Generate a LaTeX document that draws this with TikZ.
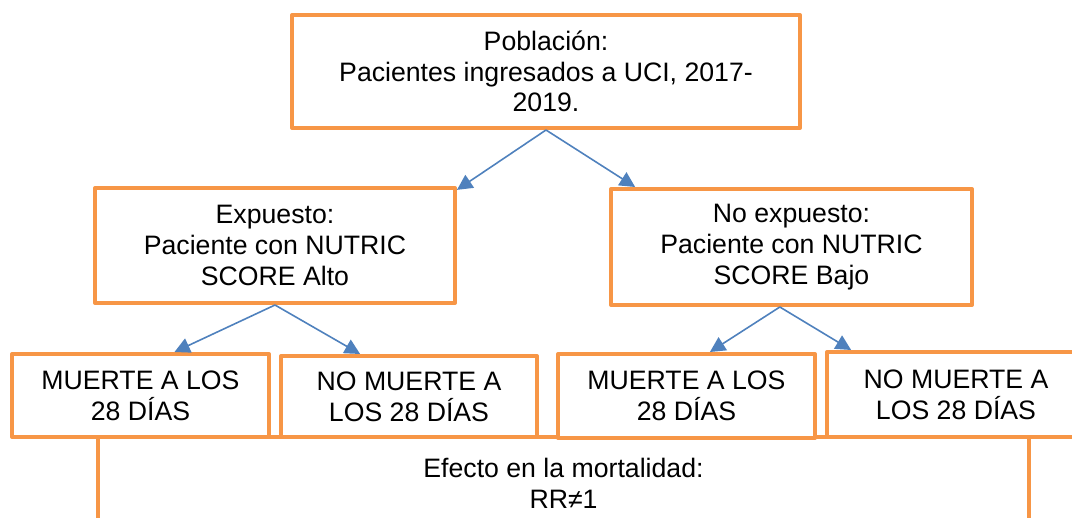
\documentclass[tikz,border=0pt]{standalone}
\usepackage{fontspec}
\setmainfont{Liberation Sans}
\usetikzlibrary{arrows.meta}
\definecolor{naranja}{HTML}{F79646}
\definecolor{azul}{HTML}{4F81BD}

\begin{document}
\begin{tikzpicture}[x=0.75pt, y=-0.75pt,
        box/.style = {draw=naranja, line width=3pt, line join=round, fill=white, align=center, inner sep=2pt, font=\fontsize{20}{23}\selectfont},
        flecha/.style = {draw=azul, line width=1.2pt, -{Triangle[length=11.5pt,width=11.5pt]}}]
        \useasboundingbox (0,0) rectangle (1072,518);
        \clip (0,0) rectangle (1072,518);

        % caja de abajo, cortada por el borde
        \node[box, minimum width=698pt, minimum height=69pt] (efecto) at (563.5,483) {Efecto en la mortalidad:\\RR≠1};

        \node[box, minimum width=381pt, minimum height=84.75pt] (pob) at (546,71.5) {Población:\\Pacientes ingresados a UCI, 2017-\\2019.};
        \node[box, minimum width=270pt, minimum height=86.25pt] (exp) at (275,245.5) {Expuesto:\\Paciente con NUTRIC\\SCORE Alto};
        \node[box, minimum width=270.75pt, minimum height=87pt] (noexp) at (791.5,247) {No expuesto:\\Paciente con NUTRIC\\SCORE Bajo};

        \node[box, minimum width=192.75pt, minimum height=62.25pt] (m1) at (140.5,395.5) {MUERTE A LOS\\28 DÍAS};
        \node[box, minimum width=192pt, minimum height=60.75pt] (nm1) at (409,396.5) {NO MUERTE A\\LOS 28 DÍAS};
        \node[box, minimum width=192.75pt, minimum height=63pt] (m2) at (686.5,396) {MUERTE A LOS\\28 DÍAS};
        \node[box, minimum width=193.5pt, minimum height=63.75pt] (nm2) at (956,394.5) {NO MUERTE A\\LOS 28 DÍAS};

        \draw[flecha] (pob.south) -- (exp.17);
        \draw[flecha] (pob.south) -- (noexp.159);
        \draw[flecha] (exp.south) -- (m1.52);
        \draw[flecha] (exp.south) -- (nm1.139);
        \draw[flecha] (noexp.259) -- (m2.62);
        \draw[flecha] (noexp.259) -- (nm2.157);

    \end{tikzpicture}
\end{document}
